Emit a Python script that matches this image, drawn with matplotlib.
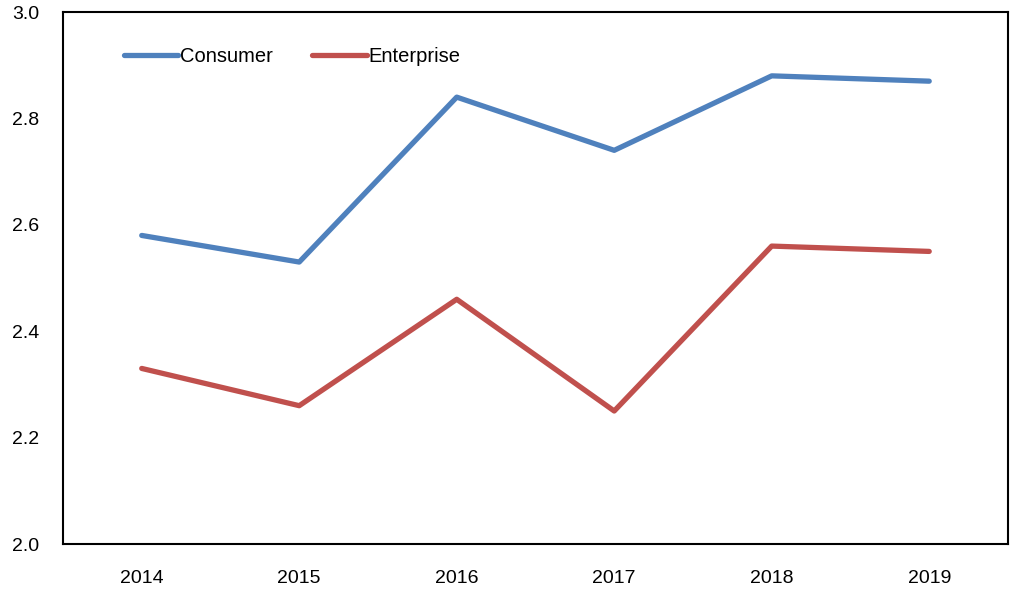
import matplotlib
matplotlib.use("Agg")
import matplotlib.pyplot as plt
import numpy as np

plt.rcParams["font.family"] = ["Liberation Sans", "DejaVu Sans"]

# ===== 数据 =====
years = ["2014", "2015", "2016", "2017", "2018", "2019"]
consumer = [2.58, 2.53, 2.84, 2.74, 2.88, 2.87]
enterprise = [2.33, 2.26, 2.46, 2.25, 2.56, 2.55]

fig = plt.figure(figsize=(10.11, 5.89), dpi=100)
ax = fig.add_axes([0.0623, 0.0764, 0.9347, 0.9032])

x = np.arange(len(years))
ax.plot(x, consumer, color="#4F81BD", lw=3.8, label="Consumer", solid_capstyle="round")
ax.plot(x, enterprise, color="#C0504D", lw=3.8, label="Enterprise", solid_capstyle="round")

ax.set_xlim(-0.5, len(years) - 0.5)
ax.set_ylim(2.0, 3.0)
ax.set_xticks(x)
ax.set_xticklabels(years)
ax.set_yticks(np.arange(2.0, 3.01, 0.2))
ax.set_yticklabels([f"{v:.1f}" for v in np.arange(2.0, 3.01, 0.2)])
ax.tick_params(length=0, labelsize=14, colors="black")
ax.tick_params(axis="x", pad=19)
ax.tick_params(axis="y", pad=17)
for s in ax.spines.values():
    s.set_linewidth(1.5)

ax.legend(loc="upper left", bbox_to_anchor=(0.045, 0.968), ncol=2, frameon=False,
          fontsize=14.5, handlelength=2.7, handletextpad=0.1, columnspacing=1.95)

plt.savefig("out.png", dpi=100)
plt.close()
